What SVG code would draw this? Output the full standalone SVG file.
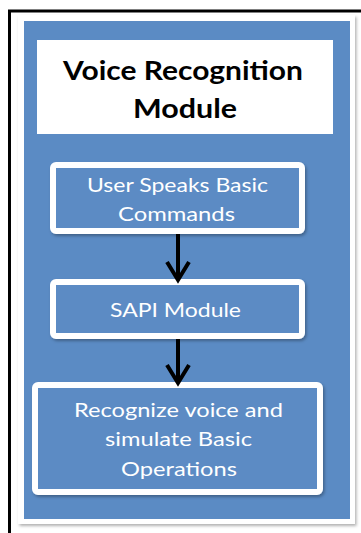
<svg xmlns="http://www.w3.org/2000/svg" width="361" height="533" viewBox="0 0 361 533">
<defs>
<style>
.title{font-family:Lato,"Liberation Sans",sans-serif;font-weight:bold;font-size:26px;fill:#000;text-anchor:middle}
.lbl{font-family:Lato,"Liberation Sans",sans-serif;font-size:20px;fill:#fff;text-anchor:middle}
.box{fill:#5b8bc4;stroke:#fff;stroke-width:6}
.conn{stroke:#000;stroke-width:4;fill:none}
</style>
<filter id="sh" x="-10%" y="-10%" width="130%" height="130%">
<feDropShadow dx="1.5" dy="2" stdDeviation="1.5" flood-color="#000" flood-opacity="0.3"/>
</filter>
<marker id="arr" markerUnits="userSpaceOnUse" markerWidth="30" markerHeight="30" refX="0" refY="0" orient="auto" viewBox="-20 -15 25 30" overflow="visible">
<path d="M-18,-11 L0,0 L-18,11" stroke="#000" stroke-width="4" fill="none"/>
</marker>
</defs>
<rect width="361" height="533" fill="#fff"/>
<g id="frame">
<path d="M9.5,533 V11 H361" stroke="#000" stroke-width="3" fill="none"/>
<rect x="18" y="15" width="337" height="509" fill="#fff" filter="url(#sh)"/>
<rect x="24" y="21" width="326" height="498" fill="#5b8bc4"/>
</g>
<g id="title">
<rect x="37" y="40" width="296" height="94" fill="#fff"/>
<text class="title" x="183" y="80" textLength="240" lengthAdjust="spacingAndGlyphs">Voice Recognition</text>
<text class="title" x="185" y="118" textLength="104" lengthAdjust="spacingAndGlyphs">Module</text>
</g>
<g id="node-user">
<rect class="box" x="53" y="165" width="249" height="66" rx="3" filter="url(#sh)"/>
<text class="lbl" x="177.5" y="192" textLength="181" lengthAdjust="spacingAndGlyphs">User Speaks Basic</text>
<text class="lbl" x="176.5" y="221" textLength="117" lengthAdjust="spacingAndGlyphs">Commands</text>
</g>
<g id="node-sapi">
<rect class="box" x="53" y="282" width="249" height="54" rx="3" filter="url(#sh)"/>
<text class="lbl" x="175.5" y="317" textLength="131" lengthAdjust="spacingAndGlyphs">SAPI Module</text>
</g>
<g id="node-recognize">
<rect class="box" x="35" y="385" width="285" height="107" rx="3" filter="url(#sh)"/>
<text class="lbl" x="178.5" y="417" textLength="209" lengthAdjust="spacingAndGlyphs">Recognize voice and</text>
<text class="lbl" x="178.5" y="446" textLength="147" lengthAdjust="spacingAndGlyphs">simulate Basic</text>
<text class="lbl" x="179" y="476" textLength="116" lengthAdjust="spacingAndGlyphs">Operations</text>
</g>
<g id="connectors">
<path class="conn" d="M178,234 V280" marker-end="url(#arr)"/>
<path class="conn" d="M178,339 V383" marker-end="url(#arr)"/>
</g>
</svg>
